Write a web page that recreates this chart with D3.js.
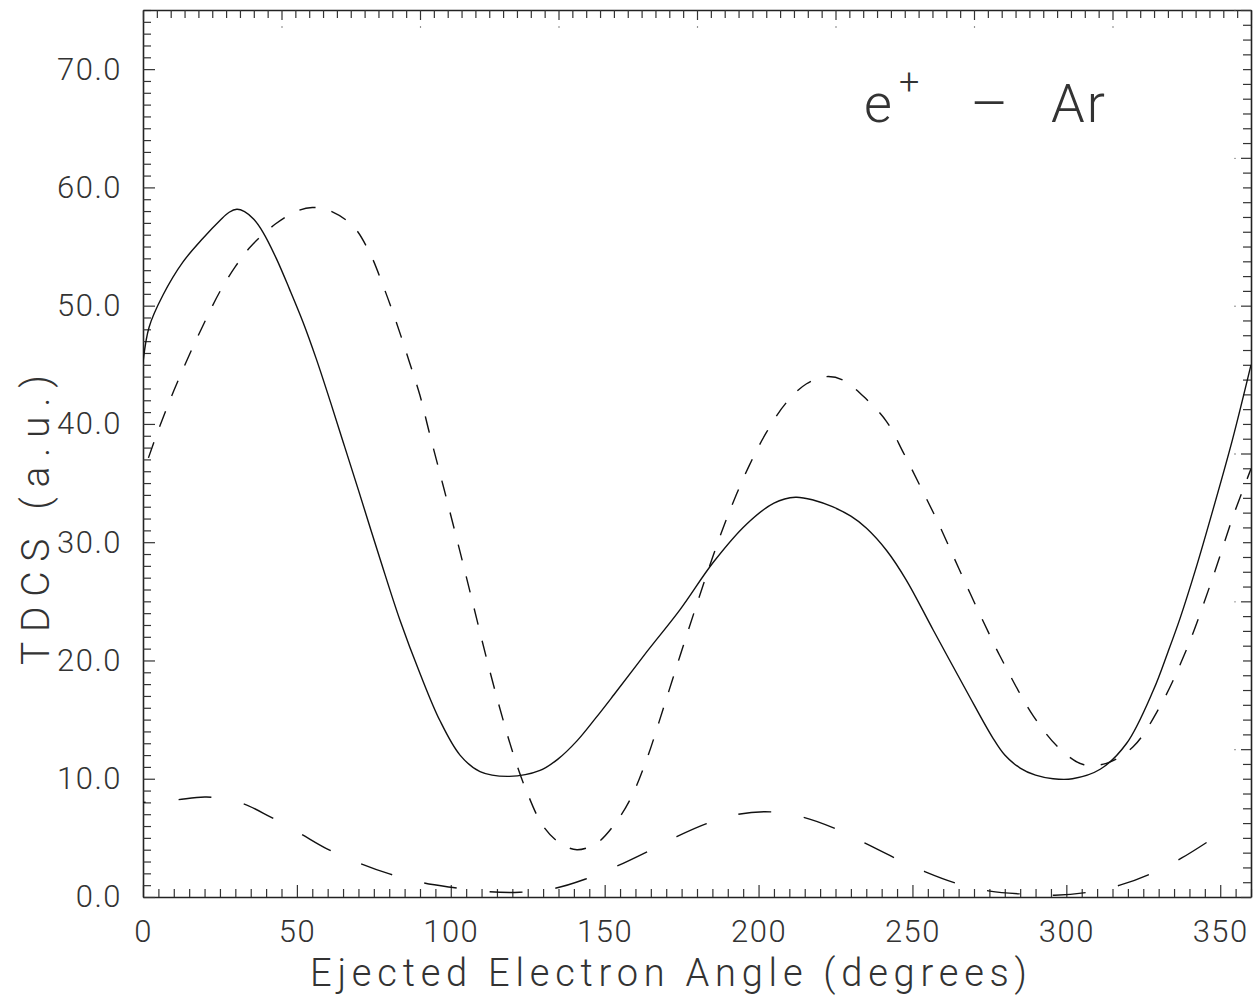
<!DOCTYPE html>
<html>
<head>
<meta charset="utf-8">
<script src="https://cdn.jsdelivr.net/npm/d3@7"></script>
<style>
  body { margin: 0; background: #fff; }
  text { font-family: Roboto, "DejaVu Sans", sans-serif; font-weight: 300; fill: #333; }
</style>
</head>
<body>
<div id="chart"></div>
<script>
// Solid curve
const solidAngle = [0, 2, 6.5, 13, 19.5, 25, 28, 30.5, 33, 36, 39, 43.3, 47.6, 52, 56.3, 60.6, 65, 70, 77, 83.5, 90, 96.5,
  103, 109.5, 119, 129, 135, 141, 147, 153, 163.6, 174.5, 185.3, 196, 205, 212, 218, 224, 230, 235, 241.6, 248, 256.7,
  267.6, 276, 280, 285, 290, 295.7, 302, 311, 319.6, 328.3, 333, 337, 342, 347.7, 354, 360];
const solidTdcs = [45.2, 48.2, 50.9, 53.7, 55.7, 57.2, 57.9, 58.15, 57.95, 57.3, 56.2, 54.0, 51.4, 48.6, 45.5, 42.1, 38.5, 34.4, 28.6, 23.4, 18.9, 14.9,
  12.0, 10.6, 10.2, 10.7, 11.7, 13.2, 15.1, 17.1, 20.7, 24.3, 28.3, 31.5, 33.3, 33.8, 33.55, 33.0, 32.2, 31.2, 29.3, 26.8, 22.6,
  17.4, 13.5, 12.0, 10.9, 10.3, 10.0, 10.0, 10.8, 13.0, 17.5, 20.7, 23.6, 27.7, 32.8, 38.7, 45.0];

// Short-dashed curve
const dashAngle = [0, 5, 10, 15, 20, 25, 30, 35, 43, 50, 55, 60, 68, 73.6, 78, 82.3, 86.6, 90, 93, 96.4,
  98.7, 103, 107.3, 111.7, 116, 120.3, 124.7, 130, 135.5, 141, 147.4, 152.8, 158.2, 163.6, 169, 174.5, 180,
  185.3, 190.7, 197, 202.6, 209, 215.6, 222, 227.5, 235, 241.6, 247, 252.4, 257.9, 263.3, 268.7, 275.2,
  278.4, 289.3, 298, 305.5, 313, 321.7, 330.4, 339, 347.7, 354.2, 360];
const dashTdcs = [35.8, 39.5, 42.8, 45.8, 48.6, 51.2, 53.3, 55.0, 56.9, 58.0, 58.3, 58.1, 56.8, 54.5, 51.7, 48.6, 45.2, 42.4, 39.3, 35.9,
  33.6, 29.2, 24.7, 20.1, 15.9, 12.1, 8.9, 6.0, 4.55, 4.0, 4.55, 6.0, 8.2, 11.6, 15.9, 20.4, 24.8,
  28.9, 32.7, 36.5, 39.3, 41.8, 43.4, 44.0, 43.7, 42.1, 40.2, 37.6, 34.8, 31.9, 28.8, 25.7, 22.1,
  20.4, 15.3, 12.5, 11.2, 11.3, 12.7, 16.1, 20.9, 27.1, 32.2, 36.2];

// Long-dashed curve
const longAngle = [0, 10.3, 20.6, 31.4, 41.2, 50.9, 59.6, 70.4, 80.1, 91, 100.7, 112, 122.4, 133.3, 143.6, 153.9,
  163.6, 173.4, 183.1, 193.4, 204, 214.5, 224.8, 234.6, 244.3, 254, 264.4, 275.2, 285.5, 296.3, 307, 317.4,
  327.7, 337.5, 346.7];
const longTdcs = [8.0, 8.2, 8.45, 8.0, 6.8, 5.4, 4.1, 2.85, 1.95, 1.2, 0.8, 0.45, 0.4, 0.7, 1.5, 2.6,
  3.8, 5.1, 6.2, 7.0, 7.2, 6.75, 5.8, 4.55, 3.3, 2.15, 1.15, 0.5, 0.25, 0.15, 0.4, 1.0,
  2.0, 3.3, 4.8];

const xTickLabels = [0, 50, 100, 150, 200, 250, 300, 350];
const yTickLabels = [0, 10, 20, 30, 40, 50, 60, 70];

const W = 1258, H = 996;
const margin = { top: 10, right: 7, bottom: 99, left: 143 };
const width = W - margin.left - margin.right;
const height = H - margin.top - margin.bottom;

const svg = d3.select("#chart").append("svg")
  .attr("width", W)
  .attr("height", H);

const g = svg.append("g")
  .attr("transform", `translate(${margin.left},${margin.top})`);

const x = d3.scaleLinear().domain([0, 360]).range([0, width]);
const y = d3.scaleLinear().domain([0, 75]).range([height, 0]);
// the unlabelled top and right axes use their own ranges
const xTop = d3.scaleLinear().domain([0, 400]).range([0, width]);
const yRight = d3.scaleLinear().domain([0, 60]).range([height, 0]);

// Bottom axis
const bottomAxis = g.append("g")
  .attr("transform", `translate(0,${height})`)
  .call(d3.axisBottom(x)
    .tickValues(d3.range(0, 361, 5))
    .tickSize(-8)
    .tickSizeOuter(0)
    .tickPadding(23)
    .tickFormat(d => xTickLabels.includes(d) ? d : ""));
bottomAxis.selectAll(".tick line")
  .attr("y2", d => d % 50 === 0 ? -12 : -8);

// Left axis
const leftAxis = g.append("g")
  .call(d3.axisLeft(y)
    .tickValues(d3.range(0, 76, 1))
    .tickSize(-8)
    .tickSizeOuter(0)
    .tickPadding(21)
    .tickFormat(d => yTickLabels.includes(d) ? d.toFixed(1) : ""));
leftAxis.selectAll(".tick line")
  .attr("x2", d => d % 10 === 0 ? 12 : 8);

// Top axis
const topAxis = g.append("g")
  .call(d3.axisTop(xTop)
    .tickValues(d3.range(0, 401, 5))
    .tickSize(-8)
    .tickSizeOuter(0)
    .tickFormat(""));
topAxis.selectAll(".tick line")
  .attr("y2", d => d % 50 === 0 ? 10 : 8);
topAxis.selectAll(".tick")
  .filter(d => d % 50 === 0 && d > 0)
  .append("circle").attr("cx", 0).attr("cy", 17).attr("r", 0.7).attr("fill", "#555");

// Right axis
const rightAxis = g.append("g")
  .attr("transform", `translate(${width},0)`)
  .call(d3.axisRight(yRight)
    .tickValues(d3.range(0, 61, 1))
    .tickSize(-8)
    .tickSizeOuter(0)
    .tickFormat(""));
rightAxis.selectAll(".tick line")
  .attr("x2", d => d % 10 === 0 ? -10 : -8);
rightAxis.selectAll(".tick")
  .filter(d => d % 10 === 0 && d > 0)
  .append("circle").attr("cx", -16).attr("cy", 0).attr("r", 0.7).attr("fill", "#555");

g.selectAll(".domain").attr("stroke", "#222").attr("stroke-width", 1.6);
g.selectAll(".tick line").attr("stroke", "#333").attr("stroke-width", 1.2);
g.selectAll(".tick text")
  .attr("font-size", 31)
  .attr("letter-spacing", 1.5)
  .attr("fill", "#333");
bottomAxis.selectAll(".tick text").attr("dy", "0.71em");

// Axis titles
svg.append("text")
  .attr("x", 310)
  .attr("y", 986)
  .attr("font-size", 38)
  .attr("textLength", 717)
  .attr("lengthAdjust", "spacing")
  .text("Ejected Electron Angle (degrees)");

svg.append("text")
  .attr("transform", "translate(49,665) rotate(-90)")
  .attr("font-size", 39)
  .attr("textLength", 290)
  .attr("lengthAdjust", "spacing")
  .text("TDCS (a.u.)");

// Annotation
const note = svg.append("g");
note.append("text").attr("x", 864).attr("y", 122).attr("font-size", 54).text("e");
note.append("text").attr("x", 899).attr("y", 94).attr("font-size", 36).text("+");
note.append("text").attr("x", 972).attr("y", 122).attr("font-size", 54)
  .attr("textLength", 34).attr("lengthAdjust", "spacingAndGlyphs").text("\u2014");
note.append("text").attr("x", 1051).attr("y", 122).attr("font-size", 54)
  .attr("letter-spacing", 2).text("Ar");

// Curves
g.append("clipPath").attr("id", "plot-clip")
  .append("rect").attr("width", width).attr("height", height);

const line = d3.line()
  .x(d => x(d[0]))
  .y(d => y(d[1]))
  .curve(d3.curveCatmullRom.alpha(0.5));

// dash phase: put the start of a dash at a given angle
function dashOffset(node, angle, period) {
  const target = x(angle);
  let lo = 0, hi = node.getTotalLength();
  for (let i = 0; i < 40; i++) {
    const mid = (lo + hi) / 2;
    if (node.getPointAtLength(mid).x < target) lo = mid; else hi = mid;
  }
  return period - (lo % period);
}

const series = [
  { angle: solidAngle, tdcs: solidTdcs, dash: null },
  { angle: dashAngle, tdcs: dashTdcs, dash: [16.5, 16.5], anchor: 138.6 },
  { angle: longAngle, tdcs: longTdcs, dash: [33, 33], anchor: 193.4 }
];

series.forEach(s => {
  const path = g.append("path")
    .datum(d3.zip(s.angle, s.tdcs))
    .attr("clip-path", "url(#plot-clip)")
    .attr("fill", "none")
    .attr("stroke", "#111")
    .attr("stroke-width", 1.4)
    .attr("d", line);
  if (s.dash) {
    path.attr("stroke-dasharray", s.dash.join(","))
      .attr("stroke-dashoffset", dashOffset(path.node(), s.anchor, d3.sum(s.dash)));
  }
});
</script>
</body>
</html>
